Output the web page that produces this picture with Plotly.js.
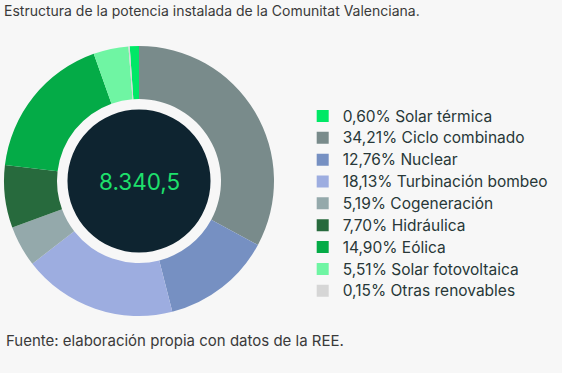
<!DOCTYPE html>
<html>
<head>
<meta charset="utf-8">
<script src="https://cdn.plot.ly/plotly-3.0.1.min.js"></script>
<style>
  html, body { margin: 0; padding: 0; background: #f7f7f7; }
  #chart { width: 562px; height: 373px; }
</style>
</head>
<body>
<div id="chart"></div>
<script>
// Categories (legend order) and their legend labels
const categories = [
  "Solar térmica", "Ciclo combinado", "Nuclear", "Turbinación bombeo",
  "Cogeneración", "Hidráulica", "Eólica", "Solar fotovoltaica", "Otras renovables"
];
const percentLabels = ["0,60%", "34,21%", "12,76%", "18,13%", "5,19%", "7,70%", "14,90%", "5,51%", "0,15%"];
// Slice sizes as drawn in the picture (share of the ring, %)
const sliceValues = [1.1, 32.9, 13.2, 18.5, 4.9, 7.5, 17.7, 4.2, 0.15];
const colors = ["#00e866", "#798b8b", "#7690c2", "#9dade0", "#94a9ab", "#276a3d", "#04ab47", "#6ff5a3", "#d6d6d6"];
const totalLabel = "8.340,5";

const W = 562, H = 373;
const cx = 139, cy = 181, rOut = 135, rIn = 82, rDisc = 71.5;
function dom(r) {
  return { x: [(cx - r) / W, (cx + r) / W], y: [1 - (cy + r) / H, 1 - (cy - r) / H] };
}

const ring = {
  type: "pie",
  labels: categories.map((c, i) => '<span style="font-size:15.5px">' + percentLabels[i] + " " + c + "</span>"),
  values: sliceValues,
  marker: { colors: colors, line: { width: 0 } },
  hole: rIn / rOut,
  sort: false,
  direction: "clockwise",
  rotation: -(sliceValues[0] / sliceValues.reduce((a, b) => a + b, 0)) * 360,
  textinfo: "none",
  hoverinfo: "label",
  domain: dom(rOut)
};

const disc = {
  type: "pie",
  labels: ["total"],
  values: [1],
  marker: { colors: ["#0e2430"], line: { width: 0 } },
  textinfo: "none",
  hoverinfo: "skip",
  showlegend: false,
  sort: false,
  domain: dom(rDisc)
};

const layout = {
  width: W, height: H,
  margin: { l: 0, r: 0, t: 0, b: 0 },
  paper_bgcolor: "#f7f7f7",
  plot_bgcolor: "#f7f7f7",
  font: { family: "Inter, 'Open Sans', sans-serif", color: "#283838" },
  title: {
    text: "Estructura de la potencia instalada de la Comunitat Valenciana.",
    x: 4 / W, xanchor: "left", xref: "paper",
    y: 1 - 11.5 / H, yanchor: "middle", yref: "paper",
    font: { size: 14, color: "#3a3a3a", family: "Inter, 'Open Sans', sans-serif" }
  },
  showlegend: true,
  legend: {
    x: 302.7 / W, xanchor: "left",
    y: 1 - 100 / H, yanchor: "top",
    bgcolor: "rgba(0,0,0,0)",
    font: { size: 14.5, color: "#283838" },
    traceorder: "normal"
  },
  annotations: [
    {
      text: totalLabel, x: cx / W, y: 1 - cy / H, xref: "paper", yref: "paper",
      showarrow: false, xanchor: "center", yanchor: "middle",
      font: { size: 22.5, color: "#1ee06c", family: "Inter, 'Open Sans', sans-serif" }
    },
    {
      text: "Fuente: elaboración propia con datos de la REE.",
      x: 4 / W, y: 1 - 340 / H, xref: "paper", yref: "paper",
      showarrow: false, xanchor: "left", yanchor: "middle",
      font: { size: 15, color: "#3a3a3a" }
    }
  ]
};

Plotly.newPlot("chart", [ring, disc], layout, { displayModeBar: false, staticPlot: true });
</script>
</body>
</html>
